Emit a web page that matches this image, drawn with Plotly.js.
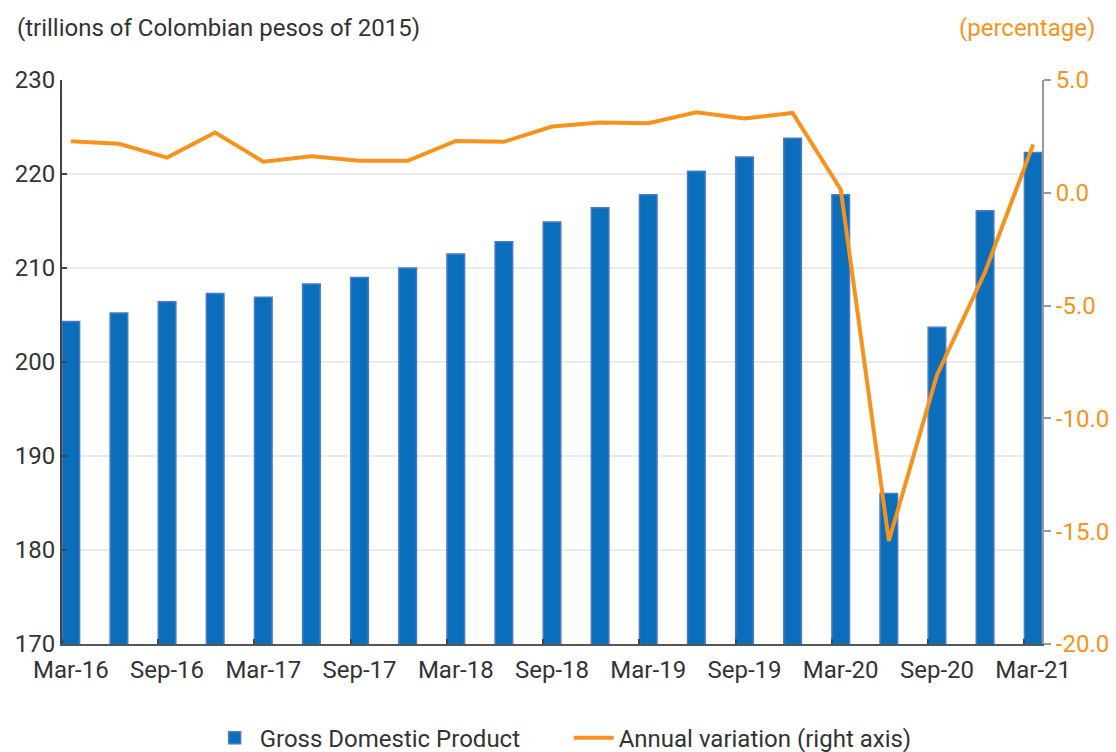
<!DOCTYPE html>
<html>
<head>
<meta charset="utf-8">
<script src="https://cdn.plot.ly/plotly-3.0.1.min.js"></script>
<style>
  html, body { margin: 0; padding: 0; background: #fff; }
  #chart { width: 1116px; height: 752px; }
</style>
</head>
<body>
<div id="chart"></div>
<script>
// Quarters Mar-16 .. Mar-21
var quarters = ['Mar-16','Jun-16','Sep-16','Dec-16','Mar-17','Jun-17','Sep-17','Dec-17',
                'Mar-18','Jun-18','Sep-18','Dec-18','Mar-19','Jun-19','Sep-19','Dec-19',
                'Mar-20','Jun-20','Sep-20','Dec-20','Mar-21'];
// GDP, trillions of Colombian pesos of 2015 (left axis)
var gdp = [204.3, 205.2, 206.4, 207.3, 206.9, 208.3, 209.0, 210.0,
           211.5, 212.8, 214.9, 216.4, 217.8, 220.3, 221.8, 223.8,
           217.8, 186.0, 203.7, 216.1, 222.3];
// Annual variation, percent (right axis)
var annualVar = [2.28, 2.17, 1.56, 2.67, 1.38, 1.62, 1.42, 1.42,
                 2.30, 2.26, 2.94, 3.12, 3.08, 3.57, 3.29, 3.54,
                 0.15, -15.43, -8.08, -3.51, 2.14];
// Tick labels
var xTickLabels = ['Mar-16','Sep-16','Mar-17','Sep-17','Mar-18','Sep-18','Mar-19','Sep-19','Mar-20','Sep-20','Mar-21'];
var leftTicks = [170, 180, 190, 200, 210, 220, 230];
var rightTickVals = [5, 0, -5, -10, -15, -20];
var rightTickText = ['5.0', '0.0', '-5.0', '-10.0', '-15.0', '-20.0'];
var leftTitle = '(trillions of Colombian pesos of 2015)';
var rightTitle = '(percentage)';
var seriesNames = ['Gross Domestic Product', 'Annual variation (right axis)'];

var idx = quarters.map(function (q, i) { return i; });
var xTickVals = idx.filter(function (i) { return i % 2 === 0; });

var BLUE = '#0A6EBA';
var BLUE_EDGE = '#4A7BCB';
var ORANGE = '#F6931C';
var TEXT = '#333333';
var FONT = 'Roboto, "Open Sans", sans-serif';
var FS = 24;
var halfBar = 0.183;

var traces = [
  {
    type: 'bar',
    name: seriesNames[0],
    x: idx,
    y: gdp,
    customdata: quarters,
    width: 2 * halfBar,
    marker: { color: BLUE, line: { color: BLUE_EDGE, width: 1.5 } },
    yaxis: 'y'
  },
  {
    type: 'scatter',
    mode: 'lines',
    name: seriesNames[1],
    x: idx,
    y: annualVar,
    customdata: quarters,
    line: { color: ORANGE, width: 4 },
    yaxis: 'y2'
  }
];

var layout = {
  width: 1116,
  height: 752,
  margin: { l: 62, r: 74, t: 80, b: 108, autoexpand: false },
  paper_bgcolor: '#ffffff',
  plot_bgcolor: '#ffffff',
  font: { family: FONT, size: FS, color: TEXT },
  showlegend: true,
  bargap: 0,
  xaxis: {
    type: 'linear',
    range: [-halfBar, quarters.length - 1 + halfBar],
    tickmode: 'array',
    tickvals: xTickVals,
    ticktext: xTickLabels,
    ticks: '',
    ticklabelstandoff: 3,
    showgrid: false,
    zeroline: false,
    showline: true,
    linecolor: '#555555',
    linewidth: 2,
    tickfont: { family: FONT, size: FS, color: TEXT },
    minor: {
      tickmode: 'array',
      tickvals: xTickVals.map(function (v) { return v - halfBar; }),
      ticks: 'inside',
      ticklen: 5,
      tickwidth: 2,
      tickcolor: '#444444',
      showgrid: false
    }
  },
  yaxis: {
    range: [170, 230],
    tickmode: 'array',
    tickvals: leftTicks,
    ticks: 'inside',
    ticklen: 5,
    tickwidth: 2,
    tickcolor: '#444444',
    showline: true,
    linecolor: '#444444',
    linewidth: 2,
    showgrid: true,
    gridcolor: '#EBEBEB',
    gridwidth: 2,
    zeroline: false,
    tickfont: { family: FONT, size: FS, color: TEXT }
  },
  yaxis2: {
    overlaying: 'y',
    side: 'right',
    range: [-20, 5],
    tickmode: 'array',
    tickvals: rightTickVals,
    ticktext: rightTickText,
    ticks: 'outside',
    ticklen: 7,
    tickwidth: 2,
    tickcolor: '#999999',
    showline: true,
    linecolor: '#999999',
    linewidth: 2,
    showgrid: false,
    zeroline: false,
    tickfont: { family: FONT, size: FS, color: ORANGE }
  },
  legend: {
    orientation: 'h',
    x: 0.517,
    xanchor: 'center',
    y: -0.167,
    yanchor: 'middle',
    font: { family: FONT, size: FS, color: TEXT },
    itemwidth: 40,
    entrywidth: 304,
    entrywidthmode: 'pixels',
    traceorder: 'normal'
  },
  annotations: [
    {
      text: leftTitle,
      xref: 'paper', yref: 'paper',
      x: -0.048, y: 1.092,
      xanchor: 'left', yanchor: 'middle',
      showarrow: false,
      font: { family: FONT, size: FS, color: TEXT }
    },
    {
      text: rightTitle,
      xref: 'paper', yref: 'paper',
      x: 1.0561, y: 1.092,
      xanchor: 'right', yanchor: 'middle',
      showarrow: false,
      font: { family: FONT, size: FS, color: ORANGE }
    }
  ]
};

Plotly.newPlot('chart', traces, layout, { displayModeBar: false, staticPlot: true });
</script>
</body>
</html>
